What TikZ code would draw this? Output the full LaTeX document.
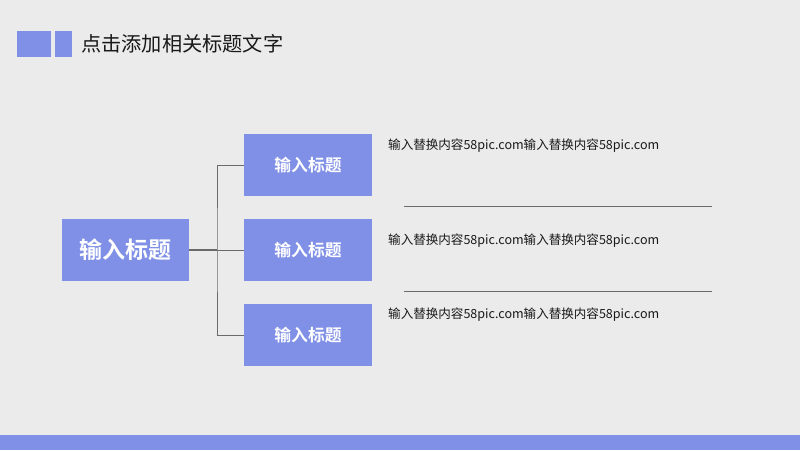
\documentclass[tikz,border=0pt]{standalone}
\usepackage{fontspec}
\newfontfamily\cjk{Noto Sans CJK SC}
\newfontfamily\cjkb{Noto Sans CJK SC Bold}
\definecolor{bg}{HTML}{EBEBEB}
\definecolor{blu}{HTML}{8090E6}
\definecolor{ln}{HTML}{6A6A6A}
\begin{document}
\begin{tikzpicture}[x=1pt,y=-1pt,
  box/.style={fill=blu,draw=none,inner sep=0pt,minimum width=128pt,minimum height=62pt,text=white},
  conn/.style={draw=ln,line width=0.8pt},
  desc/.style={anchor=west,inner sep=0pt,font=\cjk\fontsize{12.55}{15}\selectfont,text=black!90}]
\useasboundingbox (0,0) rectangle (800,450);
\fill[bg] (0,0) rectangle (800,450);
\fill[blu] (0,435) rectangle (800,450);
\fill[blu] (17,31) rectangle (51,57);
\fill[blu] (55,31) rectangle (72,57);
\node[anchor=west,inner sep=0pt,font=\cjk\fontsize{20.2}{24}\selectfont,text=black!90] (title) at (81,44) {点击添加相关标题文字};
\node[box,minimum width=127pt,font=\cjkb\fontsize{23}{26}\selectfont] (main) at (125.5,250) {输入标题};
\node[box,font=\cjkb\fontsize{16.8}{19}\selectfont] (b1) at (308,165) {输入标题};
\node[box,font=\cjkb\fontsize{16.8}{19}\selectfont] (b2) at (308,250) {输入标题};
\node[box,font=\cjkb\fontsize{16.8}{19}\selectfont] (b3) at (308,335) {输入标题};
\coordinate (j) at (217,250);
\draw[conn,line width=1.1pt] (main.east) -- (j);
\draw[conn] (b1.west) -| (j) |- (b3.west);
\draw[conn] (j) -- (b2.west);
\node[desc] (t1) at (388,146) {输入替换内容58pic.com输入替换内容58pic.com};
\node[desc] (t2) at (388,241) {输入替换内容58pic.com输入替换内容58pic.com};
\node[desc] (t3) at (388,315) {输入替换内容58pic.com输入替换内容58pic.com};
\coordinate (l1a) at (404,206); \coordinate (l1b) at (712,206);
\coordinate (l2a) at (404,291.5); \coordinate (l2b) at (712,291.5);
\draw[conn] (l1a) -- (l1b);
\draw[conn] (l2a) -- (l2b);
\end{tikzpicture}
\end{document}
